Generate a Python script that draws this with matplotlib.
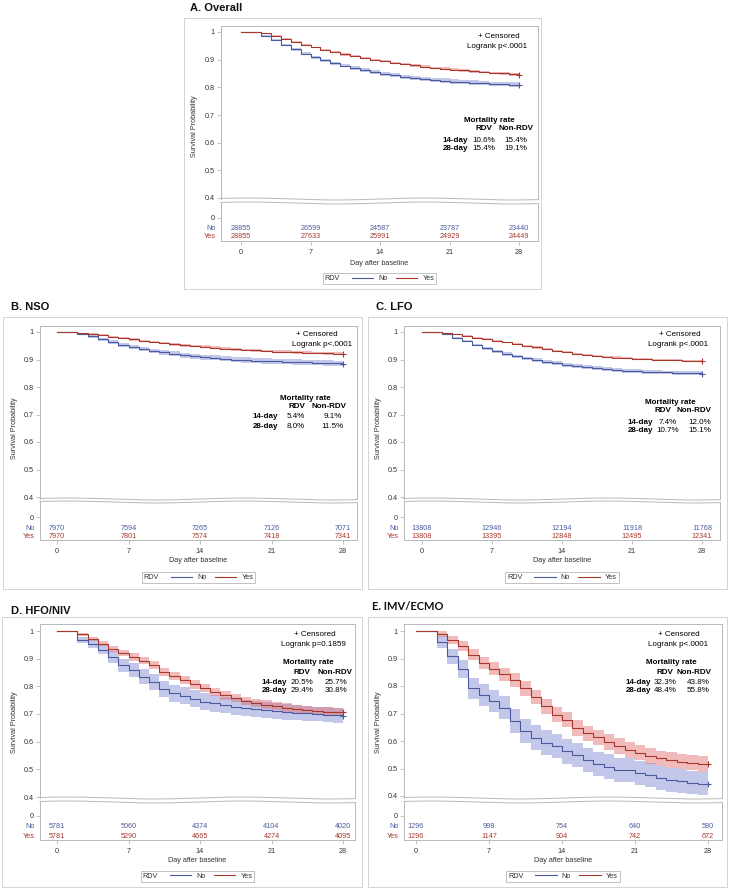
import matplotlib
matplotlib.use('Agg')
import matplotlib.pyplot as plt
import numpy as np
from matplotlib.patches import Rectangle
from matplotlib.lines import Line2D
from matplotlib.offsetbox import HPacker

plt.rcParams['font.family'] = ['Liberation Sans', 'DejaVu Sans']

# ---- data ----
days = list(range(29))
risk_days = [0, 7, 14, 21, 28]

surv_no_A = [1.000, 1.000, 0.987, 0.970, 0.953, 0.937, 0.922, 0.909, 0.897, 0.887, 0.878, 0.870, 0.863, 0.855, 0.848,
             0.843, 0.838, 0.834, 0.830, 0.827, 0.824, 0.821, 0.819, 0.817, 0.815, 0.813, 0.812, 0.810, 0.809]
surv_yes_A = [1.000, 1.000, 0.995, 0.986, 0.975, 0.964, 0.953, 0.944, 0.935, 0.927, 0.919, 0.912, 0.905, 0.899, 0.894,
              0.889, 0.884, 0.879, 0.875, 0.871, 0.867, 0.864, 0.861, 0.858, 0.855, 0.852, 0.850, 0.847, 0.846]
ci_no_A = [0, 0, 0.002, 0.003, 0.004, 0.005, 0.005, 0.006, 0.006, 0.006, 0.006, 0.007, 0.007, 0.007, 0.007,
           0.007, 0.007, 0.007, 0.007, 0.007, 0.008, 0.008, 0.008, 0.008, 0.008, 0.008, 0.008, 0.008, 0.008]
ci_yes_A = [0, 0, 0.001, 0.002, 0.002, 0.003, 0.003, 0.003, 0.003, 0.004, 0.004, 0.004, 0.004, 0.004, 0.004,
            0.004, 0.004, 0.004, 0.004, 0.004, 0.005, 0.005, 0.005, 0.005, 0.005, 0.005, 0.005, 0.005, 0.005]
risk_no_A = [28855, 26599, 24587, 23787, 23440]
risk_yes_A = [28855, 27633, 25991, 24929, 24449]

surv_no_B = [1.000, 1.000, 0.994, 0.985, 0.973, 0.963, 0.954, 0.946, 0.939, 0.932, 0.926, 0.921, 0.916, 0.912, 0.909,
             0.906, 0.903, 0.900, 0.898, 0.896, 0.894, 0.893, 0.892, 0.891, 0.890, 0.889, 0.888, 0.886, 0.885]
surv_yes_B = [1.000, 1.000, 0.997, 0.993, 0.988, 0.983, 0.978, 0.973, 0.968, 0.963, 0.959, 0.955, 0.952, 0.949, 0.946,
              0.943, 0.940, 0.937, 0.935, 0.933, 0.931, 0.929, 0.928, 0.926, 0.925, 0.924, 0.923, 0.921, 0.920]
ci_no_B = [0, 0, 0.003, 0.005, 0.006, 0.007, 0.007, 0.008, 0.008, 0.008, 0.008, 0.009, 0.009, 0.009, 0.009,
           0.009, 0.009, 0.009, 0.010, 0.010, 0.010, 0.010, 0.010, 0.010, 0.010, 0.010, 0.010, 0.010, 0.010]
ci_yes_B = [0, 0, 0.001, 0.002, 0.003, 0.003, 0.004, 0.004, 0.004, 0.004, 0.004, 0.005, 0.005, 0.005, 0.005,
            0.005, 0.005, 0.005, 0.005, 0.005, 0.005, 0.005, 0.005, 0.005, 0.005, 0.005, 0.005, 0.005, 0.005]
risk_no_B = [7970, 7594, 7265, 7126, 7071]
risk_yes_B = [7970, 7801, 7574, 7418, 7341]

surv_no_C = [1.000, 1.000, 0.992, 0.980, 0.966, 0.953, 0.941, 0.930, 0.920, 0.911, 0.904, 0.898, 0.892, 0.886, 0.880,
             0.876, 0.872, 0.868, 0.865, 0.862, 0.859, 0.857, 0.855, 0.854, 0.853, 0.852, 0.851, 0.850, 0.849]
surv_yes_C = [1.000, 1.000, 0.997, 0.992, 0.986, 0.980, 0.974, 0.968, 0.962, 0.956, 0.950, 0.944, 0.938, 0.932, 0.926,
              0.921, 0.917, 0.913, 0.910, 0.907, 0.905, 0.903, 0.901, 0.899, 0.898, 0.897, 0.896, 0.894, 0.893]
ci_no_C = [0, 0, 0.002, 0.003, 0.004, 0.005, 0.005, 0.006, 0.006, 0.006, 0.006, 0.006, 0.007, 0.007, 0.007,
           0.007, 0.007, 0.007, 0.007, 0.007, 0.007, 0.007, 0.007, 0.007, 0.007, 0.007, 0.007, 0.007, 0.007]
ci_yes_C = [0, 0, 0.001, 0.002, 0.002, 0.003, 0.003, 0.003, 0.003, 0.004, 0.004, 0.004, 0.004, 0.004, 0.004,
            0.004, 0.004, 0.004, 0.004, 0.004, 0.004, 0.004, 0.004, 0.004, 0.004, 0.004, 0.004, 0.004, 0.004]
risk_no_C = [13808, 12946, 12194, 11918, 11768]
risk_yes_C = [13808, 13395, 12848, 12495, 12341]

surv_no_D = [1.000, 1.000, 0.969, 0.952, 0.933, 0.906, 0.876, 0.858, 0.835, 0.815, 0.790, 0.775, 0.766, 0.755, 0.745,
             0.739, 0.733, 0.727, 0.722, 0.718, 0.714, 0.710, 0.708, 0.705, 0.703, 0.700, 0.697, 0.695, 0.692]
surv_yes_D = [1.000, 1.000, 0.988, 0.972, 0.954, 0.936, 0.920, 0.906, 0.892, 0.876, 0.852, 0.837, 0.822, 0.807, 0.794,
              0.780, 0.767, 0.758, 0.748, 0.741, 0.734, 0.728, 0.723, 0.718, 0.714, 0.712, 0.709, 0.707, 0.706]
ci_no_D = [0, 0, 0.011, 0.014, 0.017, 0.020, 0.023, 0.025, 0.027, 0.028, 0.029, 0.030, 0.030, 0.030, 0.030,
           0.030, 0.030, 0.029, 0.029, 0.029, 0.028, 0.028, 0.028, 0.028, 0.027, 0.027, 0.027, 0.027, 0.027]
ci_yes_D = [0, 0, 0.006, 0.008, 0.010, 0.011, 0.012, 0.013, 0.013, 0.014, 0.014, 0.015, 0.015, 0.015, 0.015,
            0.015, 0.015, 0.015, 0.015, 0.015, 0.015, 0.015, 0.015, 0.015, 0.015, 0.015, 0.015, 0.015, 0.015]
risk_no_D = [5781, 5060, 4374, 4104, 4020]
risk_yes_D = [5781, 5290, 4665, 4274, 4095]

surv_no_E = [1.000, 1.000, 0.960, 0.908, 0.861, 0.791, 0.767, 0.745, 0.721, 0.674, 0.636, 0.612, 0.594, 0.582, 0.563,
             0.549, 0.531, 0.516, 0.507, 0.495, 0.494, 0.485, 0.477, 0.465, 0.459, 0.455, 0.449, 0.444, 0.442]
surv_yes_E = [1.000, 1.000, 0.988, 0.966, 0.944, 0.914, 0.884, 0.863, 0.842, 0.821, 0.791, 0.761, 0.727, 0.696, 0.678,
              0.648, 0.628, 0.613, 0.597, 0.582, 0.567, 0.558, 0.546, 0.537, 0.531, 0.525, 0.521, 0.517, 0.516]
ci_no_E = [0, 0, 0.022, 0.028, 0.033, 0.037, 0.039, 0.041, 0.042, 0.044, 0.045, 0.045, 0.045, 0.045, 0.045,
           0.045, 0.045, 0.045, 0.044, 0.044, 0.044, 0.044, 0.044, 0.043, 0.043, 0.043, 0.043, 0.042, 0.042]
ci_yes_E = [0, 0, 0.011, 0.015, 0.018, 0.020, 0.022, 0.023, 0.024, 0.025, 0.026, 0.026, 0.027, 0.027, 0.027,
            0.028, 0.028, 0.028, 0.028, 0.028, 0.028, 0.028, 0.028, 0.028, 0.028, 0.028, 0.028, 0.028, 0.028]
risk_no_E = [1296, 998, 754, 640, 580]
risk_yes_E = [1296, 1147, 904, 742, 672]

titles = ['A. Overall', 'B. NSO', 'C. LFO', 'D. HFO/NIV', 'E. IMV/ECMO']
logrank = ['Logrank p<.0001', 'Logrank p<.0001', 'Logrank p<.0001', 'Logrank p=0.1859', 'Logrank p<.0001']
mort_14 = [('10.6%', '15.4%'), ('5.4%', '9.1%'), ('7.4%', '12.0%'), ('20.5%', '25.7%'), ('32.3%', '43.8%')]
mort_28 = [('15.4%', '19.1%'), ('8.0%', '11.5%'), ('10.7%', '15.1%'), ('29.4%', '30.8%'), ('48.4%', '55.8%')]
y_ticks = [1, 0.9, 0.8, 0.7, 0.6, 0.5, 0.4]
y_ticklabels = ['1', '0.9', '0.8', '0.7', '0.6', '0.5', '0.4']

series = [
    (surv_no_A, surv_yes_A, ci_no_A, ci_yes_A, risk_no_A, risk_yes_A),
    (surv_no_B, surv_yes_B, ci_no_B, ci_yes_B, risk_no_B, risk_yes_B),
    (surv_no_C, surv_yes_C, ci_no_C, ci_yes_C, risk_no_C, risk_yes_C),
    (surv_no_D, surv_yes_D, ci_no_D, ci_yes_D, risk_no_D, risk_yes_D),
    (surv_no_E, surv_yes_E, ci_no_E, ci_yes_E, risk_no_E, risk_yes_E),
]

# ---- layout (pixels of the 729x890 canvas) ----
layout = [
    dict(frame=(184, 18, 541, 289), l=221, r=538, top=26, brk=199, lt=203, lb=241, x0=241, x28=519, y1=32, y4=198,
         title=(190, 8), zero=218, rows=(229, 237), xlab=263, leg=278.5, ylab=(195, 126),
         cens=(499, 36), logr=(497, 46), head=(489, 120), hdr=(484, 516, 128), rowx=468, rowy=(140, 149), vals=(484, 516)),
    dict(frame=(3, 317, 362, 589), l=40, r=357, top=326, brk=499, lt=502, lb=540, x0=57, x28=343, y1=332, y4=497,
         title=(11, 307), zero=517, rows=(528, 537), xlab=561, leg=577.5, ylab=(15, 428),
         cens=(317, 335), logr=(322, 344), head=(305, 398), hdr=(297, 329, 407), rowx=278, rowy=(417, 426), vals=(296, 333)),
    dict(frame=(368, 317, 727, 589), l=404, r=720, top=326, brk=499, lt=502, lb=540, x0=422, x28=702, y1=332, y4=497,
         title=(376, 307), zero=517, rows=(528, 537), xlab=561, leg=577.5, ylab=(378, 428),
         cens=(680, 335), logr=(678, 344), head=(670, 402), hdr=(663, 694, 410), rowx=653, rowy=(422, 431), vals=(668, 700)),
    dict(frame=(2, 617, 362, 887), l=40, r=355, top=624, brk=798, lt=802, lb=840, x0=57, x28=343, y1=631, y4=797,
         title=(11, 611), zero=816, rows=(827, 836), xlab=860, leg=876.5, ylab=(15, 722),
         cens=(315, 635), logr=(313, 644), head=(308, 662), hdr=(302, 335, 672), rowx=287, rowy=(682, 691), vals=(302, 336)),
    dict(frame=(368, 617, 727, 887), l=404, r=722, top=624, brk=798, lt=802, lb=840, x0=416, x28=708, y1=631, y4=796,
         title=(372, 606), zero=816, rows=(827, 836), xlab=860, leg=876.5, ylab=(378, 722),
         cens=(679, 635), logr=(678, 644), head=(671, 662), hdr=(665, 694, 672), rowx=651, rowy=(682, 691), vals=(665, 698)),
]

C_NO = '#4b5a9c'
C_YES = '#a8382c'
F_NO = '#7b86d4'
F_YES = '#e06a6a'
EDGE = '#b8b8b8'
TXT = '#333333'
FS = 5.2
FS_ANN = 5.8

W, H = 729, 890
fig = plt.figure(figsize=(W / 100, H / 100), dpi=100)


def fx(x):
    return x / W


def fy(y):
    return 1 - y / H


def wave(ax, y0, amp):
    xs = np.linspace(0, 1, 200)
    ax.plot(xs, y0 + amp * np.sin(2 * np.pi * 1.8 * xs + 0.6), transform=ax.transAxes,
            clip_on=False, color=EDGE, lw=0.7)


for i, lay in enumerate(layout):
    no, yes, ci_no, ci_yes, rno, ryes = series[i]
    ppd = (lay['x28'] - lay['x0']) / 28
    xlim = ((lay['l'] - lay['x0']) / ppd, (lay['r'] - lay['x0']) / ppd)
    ppv = (lay['y4'] - lay['y1']) / 0.6
    ylim = (1 - (lay['brk'] - lay['y1']) / ppv, 1 + (lay['y1'] - lay['top']) / ppv)

    fl, ft, fr, fb = lay['frame']
    fig.add_artist(Rectangle((fx(fl), fy(fb)), (fr - fl) / W, (fb - ft) / H, transform=fig.transFigure,
                             fill=False, ec='#d4d4d4', lw=0.7))
    if i == 4:
        fig.text(fx(lay['title'][0]), fy(lay['title'][1]), titles[i], fontsize=8, fontweight='bold',
                 family=['Lato', 'DejaVu Sans'], ha='left', va='center', color='#111111')
    else:
        fig.text(fx(lay['title'][0]), fy(lay['title'][1]), titles[i], fontsize=8, fontweight='bold',
                 ha='left', va='center', color='#111111')

    # upper (survival) part
    ax = fig.add_axes([fx(lay['l']), fy(lay['brk']), (lay['r'] - lay['l']) / W, (lay['brk'] - lay['top']) / H])
    lo_no = np.array(no) - np.array(ci_no)
    hi_no = np.array(no) + np.array(ci_no)
    lo_yes = np.array(yes) - np.array(ci_yes)
    hi_yes = np.array(yes) + np.array(ci_yes)
    ax.fill_between(days, lo_no, hi_no, step='post', color=F_NO, alpha=0.45, lw=0)
    ax.fill_between(days, lo_yes, hi_yes, step='post', color=F_YES, alpha=0.45, lw=0)
    ax.plot(days, no, drawstyle='steps-post', color=C_NO, lw=0.8)
    ax.plot(days, yes, drawstyle='steps-post', color=C_YES, lw=0.8)
    ax.plot([days[-1]], [no[-1]], marker='+', color=C_NO, ms=4, mew=0.8)
    ax.plot([days[-1]], [yes[-1]], marker='+', color=C_YES, ms=4, mew=0.8)
    ax.set_xlim(xlim)
    ax.set_ylim(ylim)
    ax.set_xticks([])
    ax.set_yticks(y_ticks)
    ax.set_yticklabels(y_ticklabels)
    ax.tick_params(axis='y', labelsize=FS, colors=TXT, length=3, width=0.6, pad=1.5)
    ax.tick_params(axis='y', color=EDGE)
    for s in ['left', 'right', 'top']:
        ax.spines[s].set_color(EDGE)
        ax.spines[s].set_linewidth(0.7)
    ax.spines['bottom'].set_visible(False)
    wave(ax, 0, 1.0 / (lay['brk'] - lay['top']))
    fig.text(fx(lay['ylab'][0]), fy(lay['ylab'][1]), 'Survival Probability', rotation=90,
             fontsize=FS, color=TXT, ha='center', va='center')

    # annotations
    fig.text(fx(lay['cens'][0]), fy(lay['cens'][1]), '+ Censored', fontsize=FS_ANN, ha='center', va='center')
    fig.text(fx(lay['logr'][0]), fy(lay['logr'][1]), logrank[i], fontsize=FS_ANN, ha='center', va='center')
    fig.text(fx(lay['head'][0]), fy(lay['head'][1]), 'Mortality rate', fontsize=FS_ANN, fontweight='bold',
             ha='center', va='center')
    fig.text(fx(lay['hdr'][0]), fy(lay['hdr'][2]), 'RDV', fontsize=FS_ANN, fontweight='bold',
             ha='center', va='center')
    fig.text(fx(lay['hdr'][1]), fy(lay['hdr'][2]), 'Non-RDV', fontsize=FS_ANN, fontweight='bold',
             ha='center', va='center')
    for lab, vals, yy in [('14-day', mort_14[i], lay['rowy'][0]), ('28-day', mort_28[i], lay['rowy'][1])]:
        fig.text(fx(lay['rowx']), fy(yy), lab, fontsize=FS_ANN, fontweight='bold', ha='right', va='center')
        fig.text(fx(lay['vals'][0]), fy(yy), vals[0], fontsize=FS_ANN, ha='center', va='center')
        fig.text(fx(lay['vals'][1]), fy(yy), vals[1], fontsize=FS_ANN, ha='center', va='center')

    # lower part: zero tick + numbers at risk
    hl = lay['lb'] - lay['lt']
    ax2 = fig.add_axes([fx(lay['l']), fy(lay['lb']), (lay['r'] - lay['l']) / W, hl / H])
    ax2.set_xlim(xlim)
    ax2.set_ylim(0, 1)
    ax2.set_xticks(risk_days)
    ax2.set_xticklabels([str(d) for d in risk_days])
    ax2.set_yticks([(lay['lb'] - lay['zero']) / hl])
    ax2.set_yticklabels(['0'])
    ax2.tick_params(labelsize=FS, colors=TXT, length=3, width=0.6, pad=2.5)
    ax2.tick_params(color=EDGE)
    ax2.tick_params(axis='y', pad=1.5)
    for s in ['left', 'right', 'bottom']:
        ax2.spines[s].set_color(EDGE)
        ax2.spines[s].set_linewidth(0.7)
    ax2.spines['top'].set_visible(False)
    wave(ax2, 1, 1.0 / hl)
    y_no = (lay['lb'] - lay['rows'][0]) / hl
    y_yes = (lay['lb'] - lay['rows'][1]) / hl
    for d, n_no, n_yes in zip(risk_days, rno, ryes):
        ax2.text(d, y_no, str(n_no), color=C_NO, fontsize=FS, ha='center', va='center')
        ax2.text(d, y_yes, str(n_yes), color=C_YES, fontsize=FS, ha='center', va='center')
    off = -5.0 / (lay['r'] - lay['l'])
    ax2.text(off, y_no, 'No', color=C_NO, fontsize=FS, ha='right', va='center', transform=ax2.transAxes)
    ax2.text(off, y_yes, 'Yes', color=C_YES, fontsize=FS, ha='right', va='center', transform=ax2.transAxes)

    cx = (lay['l'] + lay['r']) / 2
    fig.text(fx(cx), fy(lay['xlab']), 'Day after baseline', fontsize=FS, color=TXT, ha='center', va='center')

    handles = [Line2D([], [], color=C_NO, lw=0.8), Line2D([], [], color=C_YES, lw=0.8)]
    leg = ax2.legend(handles=handles, labels=['No', 'Yes'], title='RDV', ncol=2, loc='center',
                     bbox_to_anchor=(fx(cx), fy(lay['leg'])), bbox_transform=fig.transFigure,
                     fontsize=FS, title_fontsize=FS, frameon=True, fancybox=False, edgecolor=EDGE,
                     framealpha=1, borderpad=0.3, handlelength=3.0, handletextpad=0.7, columnspacing=1.1,
                     borderaxespad=0)
    leg.get_frame().set_linewidth(0.6)
    for t in leg.get_texts():
        t.set_color(TXT)
    leg.get_title().set_color(TXT)
    # put the "RDV" title to the left of the entries, like the SAS legend
    fs_px = leg._fontsize
    box = HPacker(pad=leg.borderpad * fs_px, sep=1.6 * fs_px, align='center',
                  children=[leg._legend_title_box, leg._legend_handle_box])
    box.set_figure(fig)
    box.axes = ax2
    leg._legend_box = box
    box.set_offset(leg._findoffset)

fig.savefig('out.png', dpi=100)
